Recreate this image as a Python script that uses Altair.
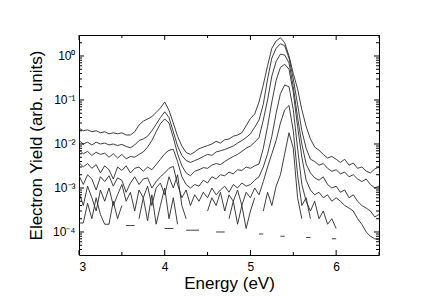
import altair as alt
import pandas as pd

energy = [3.00, 3.05, 3.10, 3.15, 3.20, 3.25, 3.30, 3.35, 3.40, 3.45,
          3.50, 3.55, 3.60, 3.65, 3.70, 3.75, 3.80, 3.85, 3.90, 3.95,
          4.00, 4.05, 4.10, 4.15, 4.20, 4.25, 4.30, 4.35, 4.40, 4.45,
          4.50, 4.55, 4.60, 4.65, 4.70, 4.75, 4.80, 4.85, 4.90, 4.95,
          5.00, 5.05, 5.10, 5.15, 5.20, 5.25, 5.30, 5.35, 5.40, 5.45,
          5.50, 5.55, 5.60, 5.65, 5.70, 5.75, 5.80, 5.85, 5.90, 5.95,
          6.00, 6.05, 6.10, 6.15, 6.20, 6.25, 6.30, 6.35, 6.40, 6.45,
          6.50]

c1 = [0.023, 0.020, 0.021, 0.019, 0.020, 0.018, 0.019, 0.017, 0.018, 0.017,
      0.018, 0.016, 0.016, 0.019, 0.027, 0.033, 0.037, 0.042, 0.052, 0.066,
      0.090, 0.058, 0.030, 0.015, 0.009, 0.0064, 0.0058, 0.0066, 0.0078, 0.0085,
      0.0092, 0.0100, 0.0115, 0.0105, 0.0125, 0.013, 0.015, 0.016, 0.018, 0.026,
      0.038, 0.048, 0.09, 0.22, 0.6, 1.5, 2.2, 2.6, 2.0, 1.0,
      0.40, 0.18, 0.06, 0.025, 0.013, 0.0085, 0.0072, 0.0058, 0.0048, 0.0052,
      0.0045, 0.0038, 0.0045, 0.0033, 0.0037, 0.0028, 0.0030, 0.0024, 0.0022, 0.0027,
      0.0030]

c2 = [0.012, 0.010, 0.011, 0.0095, 0.011, 0.010, 0.0105, 0.0095, 0.010, 0.0092,
      0.0098, 0.0088, 0.0082, 0.0095, 0.012, 0.013, 0.015, 0.020, 0.028, 0.040,
      0.054, 0.040, 0.019, 0.009, 0.0055, 0.0042, 0.0038, 0.0042, 0.0046, 0.0052,
      0.0058, 0.0055, 0.0066, 0.0070, 0.0075, 0.0082, 0.0090, 0.0105, 0.012, 0.014,
      0.017, 0.024, 0.035, 0.08, 0.30, 0.9, 1.5, 1.9, 1.7, 0.9,
      0.30, 0.08, 0.02, 0.008, 0.0045, 0.0040, 0.0033, 0.0036, 0.0028, 0.0024,
      0.0026, 0.0021, 0.0023, 0.0018, 0.0020, 0.0016, 0.0014, 0.0016, 0.0012, 0.0010,
      0.0011]

c3 = [0.0075, 0.0060, 0.0068, 0.0055, 0.0065, 0.0058, 0.0062, 0.0050, 0.0060, 0.0048,
      0.0058, 0.0046, 0.0052, 0.0050, 0.0058, 0.0066, 0.0085, 0.012, 0.019, 0.029,
      0.037, 0.030, 0.014, 0.006, 0.0032, 0.0022, 0.0019, 0.0024, 0.0026, 0.0029,
      0.0028, 0.0033, 0.0036, 0.0034, 0.0040, 0.0046, 0.0052, 0.0058, 0.0068, 0.0080,
      0.0090, 0.011, 0.014, 0.035, 0.10, 0.35, 0.75, 1.1, 1.05, 0.7,
      0.20, 0.04, 0.010, 0.0035, 0.0022, 0.0017, 0.0015, 0.0018, 0.0012, 0.0010,
      0.0011, 0.0008, 0.0009, 0.0006, 0.0007, 0.0005, 0.0004, 0.00035, 0.0003, 0.00022,
      0.00025]

c4 = [0.0038, 0.0030, 0.0036, 0.0028, 0.0034, 0.0022, 0.0032, 0.0026, 0.0016, 0.0030,
      0.0025, 0.0032, 0.0022, 0.0028, 0.0030, 0.0024, 0.0030, 0.0026, 0.0034, 0.0045,
      0.0060, 0.0072, 0.0076, 0.0040, 0.0018, 0.0012, 0.0010, 0.0012, 0.0011, 0.0015,
      0.0013, 0.0018, 0.0016, 0.0020, 0.0019, 0.0023, 0.0021, 0.0026, 0.0025, 0.0030,
      0.0028, 0.0032, 0.0035, 0.008, 0.025, 0.09, 0.28, 0.55, 0.65, 0.5,
      0.15, 0.025, 0.005, 0.0015, 0.0009, 0.0007, 0.0008, 0.0006, 0.0007, 0.0005,
      0.0006, 0.0005, 0.0004, 0.00035, 0.0003, 0.0002, 0.00015, 0.0001, 0.00008, 0.00007,
      0.000066]

c5 = [0.0019, 0.0012, 0.0020, 0.0016, 0.0009, 0.0018, 0.0014, 0.0019, 0.0011, 0.0017,
      0.0015, 0.0008, 0.0013, 0.0018, 0.0012, 0.0016, 0.0017, 0.0010, 0.0014, 0.0018,
      0.0022, 0.0028, 0.0031, 0.0012, 0.0006, 0.0009, 0.0004, 0.0007, 0.0005, 0.0008,
      0.0006, 0.0010, 0.0007, 0.0009, 0.0011, 0.0008, 0.0012, 0.0010, 0.0013, 0.0011,
      0.0012, 0.0015, 0.0018, 0.0030, 0.0060, 0.015, 0.050, 0.14, 0.22, 0.20,
      0.06, 0.008, 0.0012, 0.0005, 0.0003, 0.0005, 0.0002, 0.0003, 0.00015, 0.0002,
      0.00012, None, None, None, None, None, None, None, None, None,
      None]

c6 = [0.0008, 0.0004, 0.0011, 0.0006, 0.0003, 0.0009, 0.0005, 0.0010, 0.0004, 0.0007,
      0.0012, 0.0005, 0.0008, 0.0003, 0.0009, 0.0006, 0.0011, 0.0004, 0.0010, 0.0013,
      0.0007, 0.0018, 0.0010, 0.0020, 0.0004, 0.0002, None, None, None, None,
      0.0003, 0.0006, 0.0004, 0.0008, 0.0003, 0.0007, 0.0005, 0.0009, 0.0004, 0.0008,
      0.0006, 0.0010, 0.0007, 0.0014, 0.0030, 0.0060, 0.012, 0.030, 0.060, 0.075,
      0.020, 0.002, 0.0004, 0.0006, 0.0002, None, None, None, None, None,
      None, None, None, None, None, None, None, None, None, None,
      None]

c7 = [0.00016, 0.00016, 0.00045, 0.0002, 0.0006, 0.00025, 0.00015, 0.00015, 0.0005, 0.0002,
      0.0004, None, None, None, 0.0002, 0.0006, 0.00018, 0.0007, 0.00015, 0.0004,
      0.0010, 0.0002, 0.0006, 0.00015, None, None, None, None, None, None,
      None, None, None, None, None, 0.0002, 0.0005, 0.00015, 0.0004, 0.00012,
      0.0003, 0.0006, None, 0.0003, 0.0008, 0.0004, 0.0011, 0.0020, 0.0060, 0.018,
      0.008, 0.0006, 0.0002, None, None, None, None, None, None, None,
      None, None, None, None, None, None, None, None, None, None,
      None]

c8 = [None, None, None, None, None, None, None, None, None, None,
      None, 0.00014, 0.00014, 0.00014, None, None, None, None, None, None,
      0.00012, 0.00012, 0.00012, None, None, 0.00011, 0.00011, 0.00011, 0.00011, None,
      None, None, 0.0001, 0.0001, 0.0001, None, None, None, None, None,
      None, None, 0.00009, 0.00009, None, None, None, 0.00008, 0.00008, None,
      None, None, None, 0.000075, 0.000075, None, None, None, None, 0.00007,
      0.00007, None, None, None, None, None, None, None, None, None,
      None]

major_x = [3, 4, 5, 6]
minor_x = [3.5, 4.5, 5.5, 6.5]
major_y = [0.0001, 0.001, 0.01, 0.1, 1]
minor_y = [4e-5, 5e-5, 6e-5, 7e-5, 8e-5, 9e-5,
           2e-4, 3e-4, 4e-4, 5e-4, 6e-4, 7e-4, 8e-4, 9e-4,
           2e-3, 3e-3, 4e-3, 5e-3, 6e-3, 7e-3, 8e-3, 9e-3,
           2e-2, 3e-2, 4e-2, 5e-2, 6e-2, 7e-2, 8e-2, 9e-2,
           0.2, 0.3, 0.4, 0.5, 0.6, 0.7, 0.8, 0.9, 2.0]

curves = {"c1": c1, "c2": c2, "c3": c3, "c4": c4, "c5": c5, "c6": c6, "c7": c7, "c8": c8}
rows = []
for name, vals in curves.items():
    for e, v in zip(energy, vals):
        rows.append({"energy": e, "yield": v, "curve": name})
df = pd.DataFrame(rows)

W, H = 300, 220
xs = alt.Scale(domain=[3, 6.5], nice=False, zero=False)
ys = alt.Scale(type="log", domain=[3e-5, 3], nice=False)

ylab = ("'10' + (datum.value >= 0.5 ? '⁰' : datum.value >= 0.05 ? '⁻¹' : "
        "datum.value >= 0.005 ? '⁻²' : datum.value >= 0.0005 ? '⁻³' : '⁻⁴')")

lab_x = alt.Axis(orient="bottom", values=major_x, ticks=False, tickSize=0, domain=False,
                 grid=False, labelPadding=6, labelFontSize=12, format="d",
                 title="Energy (eV)", titleFontSize=17, titleFontWeight="normal",
                 titlePadding=3)
lab_y = alt.Axis(orient="left", values=major_y, ticks=False, tickSize=0, domain=False,
                 grid=False, labelPadding=4, labelFontSize=12, labelExpr=ylab,
                 title="Electron Yield (arb. units)", titleFontSize=17,
                 titleFontWeight="normal", titlePadding=7)

lines = alt.Chart(df).mark_line(
    color="#2a2a2a", strokeWidth=0.9, clip=True, invalid="break-paths-filter-domains"
).encode(
    x=alt.X("energy:Q", scale=xs, axis=lab_x),
    y=alt.Y("yield:Q", scale=ys, axis=lab_y),
    detail="curve:N",
)


def xticks(values, edge, length):
    d = pd.DataFrame({"tick": values})
    inner = edge - length if edge > 0 else edge + length
    return alt.Chart(d).mark_rule(color="black", strokeWidth=1).encode(
        x=alt.X("tick:Q", scale=xs, axis=None),
        y=alt.value(edge), y2=alt.value(inner),
    )


def yticks(values, edge, length):
    d = pd.DataFrame({"tick": values})
    inner = edge - length if edge > 0 else edge + length
    return alt.Chart(d).mark_rule(color="black", strokeWidth=1).encode(
        y=alt.Y("tick:Q", scale=ys, axis=None),
        x=alt.value(edge), x2=alt.value(inner),
    )


ticks = [
    xticks(major_x, H, 5), xticks(minor_x, H, 3),
    xticks(major_x, 0, 5), xticks(minor_x, 0, 3),
    yticks(major_y, 0, 5), yticks(minor_y, 0, 3),
    yticks(major_y, W, 5), yticks(minor_y, W, 3),
]

chart = alt.layer(lines, *ticks).resolve_axis(
    x="independent", y="independent"
).properties(
    width=W, height=H,
    autosize=alt.AutoSizeParams(type="none"),
    padding={"left": 71, "top": 27, "right": 50, "bottom": 50},
    background="white",
).configure_view(
    stroke="black", strokeWidth=1
).configure_axis(
    labelFont="Liberation Sans", titleFont="Liberation Sans",
    labelColor="black", titleColor="black",
)

chart.save("out.html", embed_options={"renderer": "svg", "actions": False})
